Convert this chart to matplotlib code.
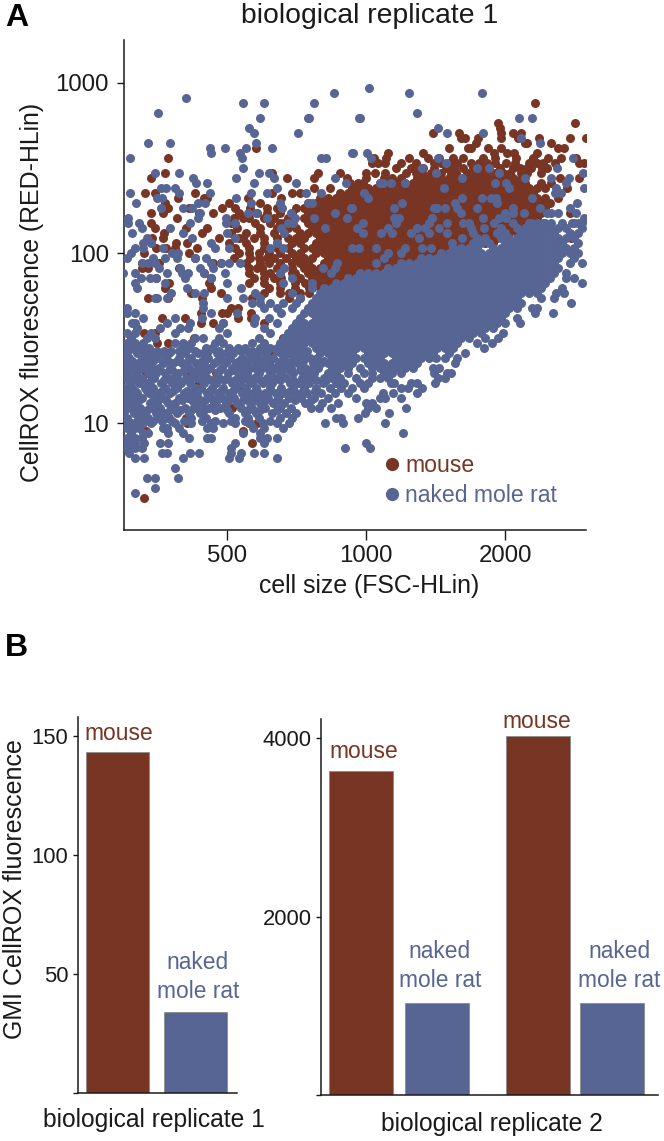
import numpy as np
import matplotlib
matplotlib.use("Agg")
import matplotlib.pyplot as plt
from matplotlib.lines import Line2D

plt.rcParams['font.family'] = ['Liberation Sans', 'DejaVu Sans']

W, H = 664, 1141
MOUSE = '#783524'
NMR = '#576594'
INK = '#1a1a1a'

# (CellROX fluorescence, [cell sizes read at that level])
mouse_readings = [
(764,[2320]),(583,[1930,2840]),(545,[1950]),
(509,[1394,1590,1961,2083,2168]),
(476,[1604,1640,1750,1961,2130,2370,2760,2990]),
(444,[1730,2213,2235,2520]),
(415,[577,1511,1660,1687,1838,1961,2610,2690]),
(388,[1117,1330,1890,2020,2090,2350]),
(362,[372,1040,1105,1240,1360,1435,1541,1620,1790,1900,2115,2304,2480,2640,2850]),
(339,[1031,1060,1100,1187,1280,1400,1451,1510,1570,1687,1760,1830,1900,2010,2100,2250,2340,2420,2560,2890,2970]),
(317,[1160,1250,1261,1330,1400,1490,1550,1620,1700,1774,1850,1950,2083,2150,2230,2280,2400,2470]),
(296,[366,626,785,878,1000,1047,1100,1220,1280,1320,1380,1450,1530,1565,1650,1730,1790,1820,1900,1980,2050,2168,2230,2398]),
(277,[342,675,770,910,1000,1095,1140,1187,1286,1339,1394,1451,1511,1573,1637,1704,1774,1847,1923,2000,2083,2168,2625,2890]),
(258,[923,960,985,1073,1117,1163,1211,1261,1312,1366,1422,1480,1541,1604,1670,1739,1810,1884,1961,2042,2126,2213,2398,2520]),
(241,[770,835,932,970,1010,1052,1095,1140,1187,1236,1286,1339,1394,1451,1511,1573,1637,1704,1774,1847,1923,2000,2083,2168,2257,2350,2446,2720]),
(226,[332,349,426,626,690,718,878,914,951,990,1031,1073,1117,1163,1211,1261,1312,1366,1422,1480,1541,1604,1670,1739,1810,1884,1961,2042,2126,2213,2304]),
(211,[390,445,452,555,655,794,826,860,896,932,970,1010,1052,1095,1140,1187,1236,1286,1339,1394,1451,1511,1573,1637,1704,1774,1847,1923,2000,2083,2168,2257,2350,2446,2600]),
(197,[366,505,590,747,778,810,843,878,914,951,990,1031,1073,1117,1163,1211,1261,1312,1366,1422,1480,1541,1604,1670,1739,1810,1884,1961,2042,2126,2213,2304,2398,2497]),
(184,[372,413,488,520,560,610,640,704,732,762,794,826,860,896,932,970,1010,1052,1095,1140,1187,1236,1286,1339,1394,1451,1511,1573,1637,1704,1774,1847,1923,2000,2083,2168,2257,2350,2446]),
(172,[342,363,434,465,530,580,610,650,690,747,778,810,843,878,914,951,990,1031,1073,1117,1163,1211,1261,1312,1366,1422,1480,1541,1604,1670,1739,1810,1884,1961,2042,2126,2213,2304,2398,2770]),
(161,[389,516,540,558,600,630,676,732,762,794,826,860,896,932,970,1010,1052,1095,1140,1187,1236,1286,1339,1394,1451,1511,1573,1637,1704,1774,1847,1923,2000,2083,2168,2257,2350]),
(150,[342,510,575,620,650,662,690,747,778,810,843,878,914,951,990,1031,1073,1117,1163,1211,1261,1312,1366,1422,1480,1541,1604,1670,1739,1810,1884,1961,2042,2126,2213,2304]),
(141,[349,407,452,525,590,640,676,704,762,794,826,860,896,932,970,1010,1052,1095,1140,1187,1236,1286,1339,1394,1451,1511,1573,1637,1704,1774,1847,1923,2000,2083,2168,2257]),
(131,[365,440,510,548,590,630,662,718,747,778,810,843,878,914,951,990,1031,1073,1117,1163,1211,1261,1312,1366,1422,1480,1541,1604,1670,1739,1810,1884,1961,2042,2126]),
(123,[344,363,480,530,540,570,600,640,676,704,732,794,826,860,896,932,970,1010,1052,1095,1140,1187,1236,1286,1339,1394,1451,1511,1573,1637,1704,1774,1847,1923,2000,2780]),
(115,[387,409,505,550,600,640,690,718,778,810,843,878,914,951,990,1031,1073,1117,1163,1211,1261,1312,1366,1422,1480,1541,1604,1670,1739,1810,1884]),
(107,[368,385,430,350,520,558,600,640,676,732,762,794,826,860,896,932,970,1010,1052,1095,1140,1187,1236,1286,1339,1394,1451,1511,1573,1637,1704]),
(100,[330,412,530,587,558,617,650,690,718,778,810,843,878,914,951,990,1031,1073,1117,1163,1211,1261,1312,1366,1422,1480,1541,1604]),
(93.7,[426,516,560,587,610,632,670,704,732,762,826,860,896,932,970,1010,1052,1095,1140,1187,1236,1286,1339,1394,1451]),
(87.5,[326,355,465,485,550,590,617,650,690,718,747,810,843,878,914,951,990,1031,1073,1117,1163,1211,1261,1312]),
(81.8,[326,337,393,558,580,595,640,690,732,762,794,826,860,896,932,970,1010,1052,1095,1140,1187,1236]),
(76.4,[445,558,600,620,649,690,700,747,778,810,843,878,914,951,990,1031,1073,1117]),
(71.4,[350,461,570,600,630,655,706,720,762,794,826,860,896,932,970,1010,1052]),
(66.7,[374,457,558,600,650,700,735,778,810,843,878,914,951,990]),
(62.4,[366,461,617,650,700,750,794,826,860,896]),
(58.3,[418,485,600,649,680,718,750,810,860]),
(54.5,[337,372,440,565,680,718]),
(47.6,[510,527]),(44.4,[438,488,500,564]),(41.5,[405,527,564,361]),
(38.8,[438,465,490,600]),(33.9,[330,349]),(31.7,[424,660]),(29.6,[352,372]),
(25.8,[617]),(22.6,[440,794,718]),(19.7,[333,407,472,755]),(17.2,[434,704]),
(16.1,[542]),(15.0,[613,658]),(14.0,[587]),(12.25,[512]),(10.7,[407,374]),
(10.0,[409,580,558]),(9.0,[333,540]),(7.63,[565]),(3.62,[330]),
]

naked_readings = [
(937,[1015]),(875,[852,1236,1780]),(818,[407]),(764,[542,599,770]),(667,[353,1286]),
(624,[590,747,752,965,970,2147,2290]),(545,[558,1428]),(509,[570,711,1500,1790]),
(476,[2168]),(444,[337,376,577,2375]),(415,[458,495,548,626]),
(388,[461,533,932,936,1005]),(362,[307,537,800,818,1025,1428,2800]),(339,[1490]),
(317,[540,1318,1739,1847,2585]),(296,[349,393,587,617,1415,1942,2950]),
(277,[422,523,632,856,1610,2213,2510,2745]),
(258,[428,452,570,706,905,1070,1090,1129,1211,1900,2010,2706]),
(241,[359,368,385,640,1475,2042,2575,2965]),
(226,[307,393,458,564,611,798,742,990,2560,2640]),
(211,[361,352,523,1010,1610,1780,1865,1915,2290]),
(197,[317,432,448,562,649,747,762,1198,1555,1923,2860]),
(184,[359,401,420,658,928,932,1150,1400,1480,1422,1573,1739,2083,2375,2770]),
(172,[437,553,577,686,856,1604,2083,2460,2510,2610,2850,2200,2000]),
(161,[305,432,497,611,700,770,908,1150,1175,1387,1790,1942,2010,2970]),
(150,[305,322,415,497,520,693,676,985,1163,1366,1890,2280,2520,2790,2817,2932,2420,1500,1620,1670,2083,2257,2350,2446,2651,2873]),
(141,[376,326,655,815,955,1117,1290,1340,1440,1690,1800,1961,2126,2213,2304,2398,2497,2599,2706,2932]),
(131,[311,401,500,665,985,1075,1140,1250,1366,1500,1700,1923,2000,2168,2257,2350,2446,2547,2760,2873]),
(123,[335,419,520,1300,1610,1739,1810,1961,2042,2126,2213,2304,2398,2497,2599,2706,2817]),
(115,[328,342,461,640,1536,1704,1774,1847,2000,2083,2168,2257,2350,2446,2547,2651,2873]),
(107,[315,328,362,470,505,620,660,932,965,1050,1211,1320,1385,1541,1604,1670,1739,1884,1961,2042,2126,2213,2304,2398,2497,2599,2706,2817]),
(100,[309,380,390,1117,1187,1451,1511,1573,1637,1704,1774,1847,1923,2000,2083,2168,2257,2350,2446,2547,2651,2760,2873]),
(93.7,[303,345,366,388,425,450,1095,1312,1366,1422,1480,1541,1604,1670,1739,1810,1884,1961,2042,2126,2213,2304,2398,2497,2599,2817]),
(87.5,[326,337,349,461,485,505,533,865,1052,1187,1236,1286,1339,1394,1451,1511,1573,1637,1704,1774,1847,1923,2000,2083,2168,2257,2350,2446,2547,2760,2932]),
(81.8,[355,395,437,465,665,805,856,1117,1163,1211,1261,1312,1366,1422,1480,1541,1604,1670,1739,1810,1884,1961,2042,2126,2213,2304,2398,2497,2599]),
(76.4,[297,315,370,398,410,445,495,650,840,970,1010,1052,1095,1140,1187,1236,1286,1339,1394,1451,1511,1573,1637,1704,1774,1847,1923,2000,2083,2168,2257,2350,2446,2547,2706]),
(71.4,[325,340,350,405,460,690,914,951,990,1031,1073,1117,1163,1211,1261,1312,1366,1422,1480,1541,1604,1670,1739,1810,1884,1961,2042,2126,2213,2304,2398,2497,2706,2817]),
(66.7,[315,366,500,660,762,860,896,932,970,1010,1052,1095,1140,1187,1236,1286,1339,1394,1451,1511,1573,1637,1704,1774,1847,1923,2000,2083,2168,2257,2350,2446,2932]),
(62.4,[318,408,535,762,810,843,878,914,951,990,1031,1073,1117,1163,1211,1261,1312,1366,1422,1480,1541,1604,1670,1739,1810,1884,1961,2042,2126,2213,2304,2398,2651]),
(58.3,[378,425,445,575,690,794,826,860,896,932,970,1010,1052,1095,1140,1187,1236,1286,1339,1394,1451,1511,1573,1637,1704,1774,1847,1923,2000,2083,2168,2257,2350,2580,2690]),
(54.5,[349,352,370,500,540,590,718,778,810,843,878,914,951,990,1031,1073,1117,1163,1211,1261,1312,1366,1422,1480,1541,1604,1670,1739,1810,1884,1961,2042,2126,2398,2547]),
(50.9,[443,565,590,620,660,704,762,794,826,860,896,932,970,1010,1052,1095,1140,1187,1236,1286,1339,1394,1451,1511,1573,1637,1704,1774,1847,1923,2000,2083,2168,2780]),
(47.6,[303,443,600,640,690,747,778,810,843,878,914,951,990,1031,1073,1117,1163,1211,1261,1312,1366,1422,1480,1541,1604,1670,1739,1810,1884,1961,2042,2126,2350,2290]),
(44.4,[303,315,461,525,655,732,762,794,826,860,896,932,970,1010,1052,1095,1140,1187,1236,1286,1339,1394,1451,1511,1573,1637,1704,1774,1847,1923,2000,2320,2540]),
(41.5,[328,385,441,575,615,718,778,810,843,878,914,951,990,1031,1073,1117,1163,1211,1261,1312,1366,1422,1480,1541,1604,1670,1739,1810,1884,1961,2120]),
(38.8,[310,315,370,415,490,570,640,704,732,762,794,826,860,896,932,970,1010,1052,1095,1140,1187,1236,1286,1339,1394,1451,1511,1573,1637,1704,1774,1847,1923,2000,2150]),
(36.2,[318,358,394,410,480,600,690,718,747,778,810,843,878,914,951,990,1031,1073,1117,1163,1211,1261,1312,1366,1422,1480,1541,1604,1670,1739,1810,1884]),
(33.9,[303,315,342,385,500,620,676,704,732,762,794,826,860,896,932,970,1010,1052,1095,1140,1187,1236,1286,1339,1394,1451,1511,1573,1637,1704,1774,1980]),
(31.7,[309,335,349,426,443,480,587,662,690,718,747,778,810,843,878,914,951,990,1031,1073,1117,1163,1211,1261,1312,1366,1422,1480,1541,1604,1670,1810,1930]),
(29.6,[303,315,328,385,401,417,470,490,565,599,649,676,704,732,762,794,826,860,896,932,970,1010,1052,1095,1140,1187,1236,1286,1339,1394,1451,1511,1573,1740,1870]),
(27.7,[297,312,325,338,398,412,449,463,503,528,547,590,618,641,668,695,722,778,810,843,878,914,951,990,1031,1073,1117,1163,1211,1261,1312,1366,1422,1480,1541,1800]),
(26.7,[305,322,352,365,378,393,425,455,480,510,535,565,600,640,665,700,745]),
(25.8,[301,318,331,346,358,373,405,431,442,474,497,515,556,582,607,653,681,709,737,794,826,860,896,932,1010,1052,1095,1140,1187,1236,1286,1339,1394,1511,1640]),
(24.1,[299,306,327,340,352,369,392,418,455,483,506,539,570,603,629,664,699,724,755,781,843,878,914,951,990,1031,1073,1163,1211,1261,1312,1366,1420,1480,1570]),
(23.3,[310,325,345,372,388,410,440,475,500,530,555,590,620,655,690,730,770,810]),
(22.6,[305,320,334,362,381,398,428,446,468,494,522,548,577,613,646,672,712,768,800,826,860,896,932,1010,1052,1095,1140,1187,1236,1286,1560]),
(21.1,[298,311,329,344,356,376,412,437,458,487,512,535,560,594,632,658,688,735,788,843,878,914,970,1031,1073,1117,1163,1211,1261,1394,1440]),
(20.4,[300,320,335,358,380,402,430,452,482,515,545,580,615,648,680,720,755]),
(19.7,[303,317,339,351,367,390,421,440,475,501,527,551,585,622,654,695,742,772,826,860,914,990,1031,1095,1140,1187,1400,1500,1530]),
(18.4,[300,313,326,347,372,384,406,430,452,480,498,540,571,608,640,670,726,760,812,843,878,951,1031,1073,1117,1430,1480]),
(17.8,[305,318,342,365,390,412,440,462,492,520,555,590,615,650,695,735,780,820]),
(17.2,[307,321,336,359,379,397,415,446,472,511,533,565,598,626,683,716,751,805,860,896,970,1010,1129,1150,1250,1290,1410]),
(16.1,[299,310,332,345,366,388,425,438,463,490,523,548,577,618,652,695,732,780,835,880,930,990,1187,1230,1320]),
(15.5,[300,315,335,360,382,408,432,458,485,515,550,580,615,650,685,730,775]),
(15.0,[304,319,338,354,375,403,419,451,478,505,539,569,604,637,667,703,745,798,855,915,1090,1145,1290]),
(14.0,[298,312,327,348,362,392,410,433,460,486,517,552,583,612,645,680,722,770,825,950,1070,1100,1190]),
(13.6,[305,322,345,368,398,420,448,475,505,540,575,605,640,700,760]),
(13.1,[302,316,340,352,371,386,423,441,469,497,526,560,590,628,662,738,802,868,1000,1030]),
(12.25,[299,309,324,343,358,381,404,428,456,482,535,566,602,650,688,758,790,840,1010,1050,1220]),
(12.0,[300,318,335,355,375,395,418,445,470,500,555,590,640]),
(11.45,[296,314,330,350,365,388,412,436,503,545,578,625,670,705,995,1120]),
(10.7,[303,322,337,355,372,418,450,520,553,587,650,690,860,880,960]),
(10.3,[305,318,345,360,380,402,440,470,510,545,620]),
(10.0,[297,309,328,342,385,417,461,490,520,560,597,640,680,815,890,1100]),
(9.35,[303,315,322,363,370,393,452,465,568,600,660]),
(8.73,[309,328,337,372,401,540,590,1200]),
(8.16,[303,315,326,412,452,461,610,640,590]),
(7.63,[297,309,315,330,357,372,520,600,1000]),
(7.13,[303,316,326,510,1020,900]),
(6.66,[306,361,370,415,434,510,535,600,570]),
(6.23,[316,330,401,505,530,640]),
(5.44,[385]),(4.75,[335,349,390]),(4.15,[349]),(3.88,[315]),
]

tick_sizes = [500, 1000, 2000]
tick_fluor = [10, 100, 1000]

rep1_categories = ['mouse', 'naked\nmole rat']
rep1_values = [143.4, 34.2]
rep1_ticks = [50, 100, 150]
rep2_categories = ['mouse', 'naked\nmole rat', 'mouse', 'naked\nmole rat']
rep2_values = [3634, 1031, 4019, 1031]
rep2_ticks = [2000, 4000]


def expand(readings):
    xs, ys = [], []
    for level, sizes in readings:
        xs.extend(sizes)
        ys.extend([level] * len(sizes))
    return np.array(xs, float), np.array(ys, float)


fig = plt.figure(figsize=(W / 100, H / 100), dpi=100)


def axes_px(left, top, right, bottom):
    ax = fig.add_axes([left / W, 1 - bottom / H, (right - left) / W, (bottom - top) / H])
    ax.patch.set_alpha(0)
    for s in ('top', 'right'):
        ax.spines[s].set_visible(False)
    for s in ('left', 'bottom'):
        ax.spines[s].set_linewidth(1.1)
        ax.spines[s].set_color(INK)
    return ax


def text_px(x, y, s, size, color=INK, ha='center', va='center', **kw):
    return fig.text(x / W, 1 - y / H, s, fontsize=size, color=color, ha=ha, va=va, **kw)


# Panel A
axA = axes_px(124.3, 40, 586, 530)
mx, my = expand(mouse_readings)
nx, ny = expand(naked_readings)
axA.scatter(mx, my, s=42, color=MOUSE, linewidths=0, zorder=2)
axA.scatter(nx, ny, s=42, color=NMR, linewidths=0, zorder=3)
axA.set_xscale('log', base=2)
axA.set_yscale('log')
axA.set_xlim(299, 2995)
axA.set_ylim(2.35, 1790)
axA.set_xticks(tick_sizes)
axA.set_xticklabels([str(t) for t in tick_sizes])
axA.set_yticks(tick_fluor)
axA.set_yticklabels([str(t) for t in tick_fluor])
axA.minorticks_off()
axA.tick_params(axis='x', length=7.5, width=1, color=INK, labelsize=17.3, pad=3, labelcolor=INK)
axA.tick_params(axis='y', length=5, width=1, color=INK, labelsize=17.3, pad=6, labelcolor=INK)

text_px(370, 16, 'biological replicate 1', 20.4)
text_px(369, 586, 'cell size (FSC-HLin)', 17.9)
text_px(32, 292, 'CellROX fluorescence (RED-HLin)', 17.9, rotation=90)
text_px(5, 18, 'A', 23, ha='left', fontweight='bold', color='black')
text_px(5, 648, 'B', 23, ha='left', fontweight='bold', color='black')

fig.add_artist(Line2D([392 / W], [1 - 464 / H], marker='o', ms=9.5, color=MOUSE, mew=0, ls='none'))
fig.add_artist(Line2D([392 / W], [1 - 494 / H], marker='o', ms=9.5, color=NMR, mew=0, ls='none'))
text_px(405, 465, 'mouse', 16.6, color=MOUSE, ha='left')
text_px(405, 495, 'naked mole rat', 16.6, color=NMR, ha='left')

# Panel B, replicate 1
axB1 = axes_px(77.5, 717, 237, 1093)
x1 = [0, 1]
axB1.bar(x1, rep1_values, width=0.82, color=[MOUSE, NMR], edgecolor='#8a8a8a', linewidth=0.6)
axB1.set_xlim(-0.513, 1.532)
axB1.set_ylim(0, 158)
axB1.set_xticks([])
axB1.set_yticks([0] + rep1_ticks)
axB1.set_yticklabels([''] + [str(t) for t in rep1_ticks])
axB1.tick_params(axis='y', length=3.5, width=1, color=INK, labelsize=15.8, pad=3, labelcolor=INK)
text_px(119, 733, rep1_categories[0], 16.4, color=MOUSE)
text_px(198, 977, rep1_categories[1], 16.4, color=NMR, linespacing=1.3)
text_px(154, 1120, 'biological replicate 1', 17.7)
text_px(15, 889, 'GMI CellROX fluorescence', 18, rotation=90)

# Panel B, replicate 2
axB2 = axes_px(320.7, 719, 658, 1095.4)
x2 = [0, 1, 2.325, 3.303]
axB2.bar(x2, rep2_values, width=0.842, color=[MOUSE, NMR, MOUSE, NMR], edgecolor='#8a8a8a', linewidth=0.6)
axB2.set_xlim(-0.530, 3.908)
axB2.set_ylim(0, 4213)
axB2.set_xticks([])
axB2.set_yticks([0] + rep2_ticks)
axB2.set_yticklabels([''] + [str(t) for t in rep2_ticks])
axB2.tick_params(axis='y', length=3.5, width=1, color=INK, labelsize=15.8, pad=3, labelcolor=INK)
for cx, cy, name, col in [(364, 751, rep2_categories[0], MOUSE), (440, 966, rep2_categories[1], NMR),
                          (537, 721, rep2_categories[2], MOUSE), (619, 966, rep2_categories[3], NMR)]:
    text_px(cx, cy, name, 16.4, color=col, linespacing=1.3)
text_px(492, 1124, 'biological replicate 2', 17.7)

fig.savefig('out.png', dpi=100)
